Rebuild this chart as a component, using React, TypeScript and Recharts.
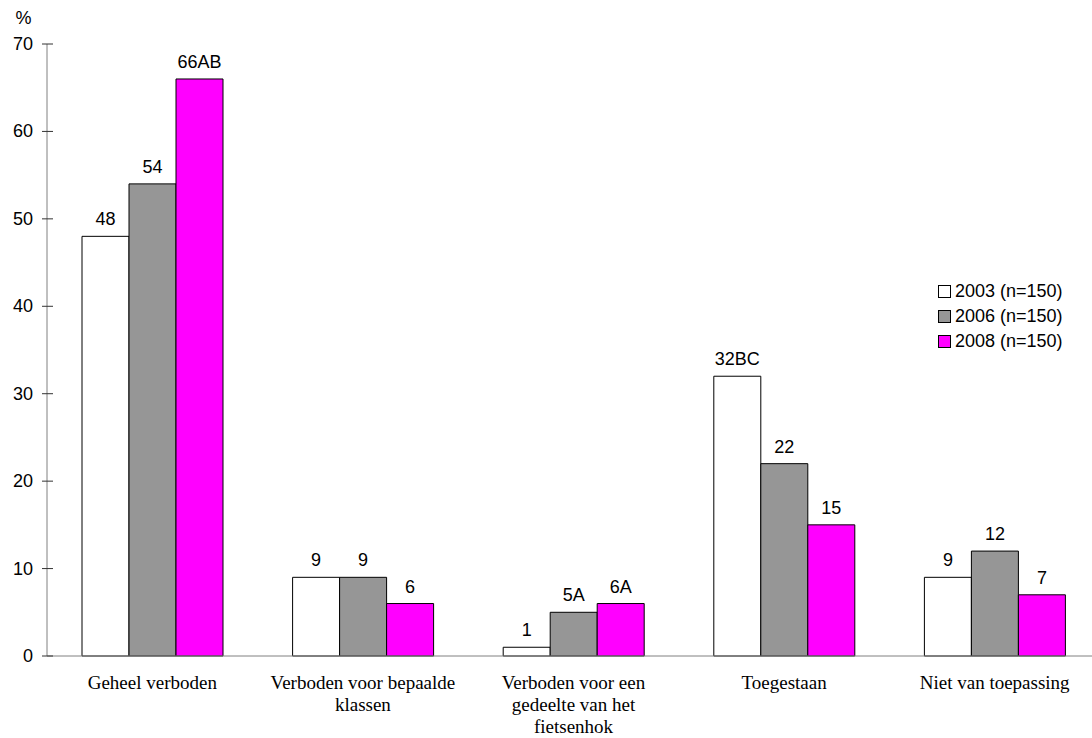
import { BarChart, Bar, XAxis, YAxis, LabelList, Legend } from "recharts";

// category labels, one entry per printed line
const categories = [
  ["Geheel verboden"],
  ["Verboden voor bepaalde", "klassen"],
  ["Verboden voor een", "gedeelte van het", "fietsenhok"],
  ["Toegestaan"],
  ["Niet van toepassing"],
];

const values2003 = [48, 9, 1, 32, 9];
const values2006 = [54, 9, 5, 22, 12];
const values2008 = [66, 6, 6, 15, 7];

// significance letters printed behind the value
const marks2003 = ["", "", "", "BC", ""];
const marks2006 = ["", "", "A", "", ""];
const marks2008 = ["AB", "", "A", "", ""];

const yTicks = [0, 10, 20, 30, 40, 50, 60, 70];

const series = [
  { key: "y2003", name: "2003 (n=150)", color: "#FFFFFF", marks: marks2003 },
  { key: "y2006", name: "2006 (n=150)", color: "#969696", marks: marks2006 },
  { key: "y2008", name: "2008 (n=150)", color: "#FF00FF", marks: marks2008 },
];

const data = categories.map((lines, i) => ({
  cat: lines.join("|"),
  y2003: values2003[i],
  y2006: values2006[i],
  y2008: values2008[i],
}));

const SANS = "'Liberation Sans', Arial, sans-serif";
const SERIF = "'Liberation Serif', 'Times New Roman', serif";

const YTick = (props: any) => {
  const { x, y, payload } = props;
  return (
    <g>
      <line x1={x + 9} x2={x + 20} y1={y} y2={y} stroke="#333" strokeWidth={1} />
      <text x={x} y={y} dy={6} textAnchor="end" fontFamily={SANS} fontSize={18} fill="#000">
        {payload.value}
      </text>
    </g>
  );
};

const XTick = (props: any) => {
  const { x, y, payload } = props;
  const lines = String(payload.value).split("|");
  return (
    <text x={x} y={y} textAnchor="middle" fontFamily={SERIF} fontSize={19} fill="#000">
      {lines.map((l, i) => (
        <tspan key={i} x={x} dy={i === 0 ? 13 : 22}>
          {l}
        </tspan>
      ))}
    </text>
  );
};

const makeLabel = (marks: string[]) => (props: any) => {
  const { x, y, width, value, index } = props;
  return (
    <text
      x={x + width / 2}
      y={y - 11}
      textAnchor="middle"
      fontFamily={SANS}
      fontSize={18}
      fill="#000"
    >
      {`${value}${marks[index] || ""}`}
    </text>
  );
};

const LegendBox = () => (
  <div style={{ fontFamily: SANS, fontSize: 18, color: "#000" }}>
    {series.map((s) => (
      <div key={s.key} style={{ display: "flex", alignItems: "center", height: 25 }}>
        <span
          style={{
            display: "inline-block",
            width: 11,
            height: 11,
            background: s.color,
            border: "1px solid #000",
            marginRight: 4,
          }}
        />
        <span>{s.name}</span>
      </div>
    ))}
  </div>
);

export default function App() {
  return (
    <div style={{ position: "absolute", left: 0, top: 0, width: 1092, height: 738, background: "#fff" }}>
      <BarChart
        width={1092}
        height={738}
        data={data}
        margin={{ top: 44, right: -8, bottom: 0, left: 0 }}
        barGap={0}
        barCategoryGap={35}
      >
        <XAxis
          dataKey="cat"
          height={82}
          tickLine={false}
          axisLine={{ stroke: "#808080" }}
          tickSize={0}
          tickMargin={20}
          tick={<XTick />}
          interval={0}
        />
        <YAxis
          width={47}
          domain={[0, 70]}
          ticks={yTicks}
          tickLine={false}
          tickSize={0}
          tickMargin={14}
          axisLine={{ stroke: "#808080" }}
          tick={<YTick />}
          label={{ value: "%", position: "top", offset: 20, fontFamily: SANS, fontSize: 18, fill: "#000" }}
        />
        <Legend
          layout="horizontal"
          verticalAlign="middle"
          align="center"
          content={<LegendBox />}
          wrapperStyle={{ left: 938, top: 279, width: 160 }}
        />
        {series.map((s) => (
          <Bar
            key={s.key}
            dataKey={s.key}
            name={s.name}
            fill={s.color}
            stroke="#000"
            strokeWidth={1}
            isAnimationActive={false}
          >
            <LabelList dataKey={s.key} content={makeLabel(s.marks)} />
          </Bar>
        ))}
      </BarChart>
    </div>
  );
}
